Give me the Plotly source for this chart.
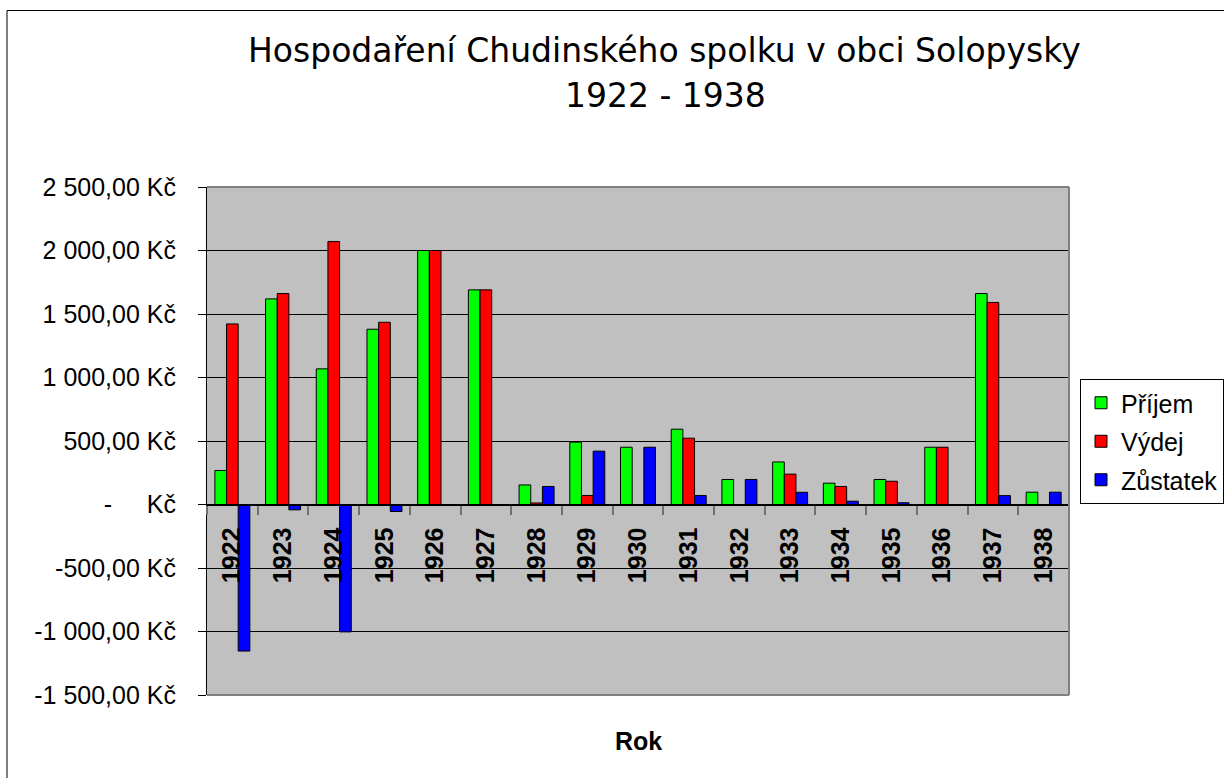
import plotly.graph_objects as go

years = ["1922", "1923", "1924", "1925", "1926", "1927", "1928", "1929", "1930",
         "1931", "1932", "1933", "1934", "1935", "1936", "1937", "1938"]
prijem = [268, 1619, 1068, 1380, 2000, 1690, 154, 491, 451, 593, 197, 335, 168, 197, 451, 1661, 97]
vydej = [1422, 1661, 2071, 1435, 2000, 1690, 12, 71, 0, 522, 0, 239, 142, 183, 451, 1591, 0]
zustatek = [-1154, -42, -1003, -55, 0, 0, 142, 420, 451, 71, 197, 96, 26, 14, 0, 70, 97]

y_tickvals = [2500, 2000, 1500, 1000, 500, 0, -500, -1000, -1500]
y_ticktext = ["2 500,00 Kč", "2 000,00 Kč", "1 500,00 Kč", "1 000,00 Kč", "500,00 Kč",
              "-\u00a0\u00a0\u00a0\u00a0\u00a0Kč", "-500,00 Kč", "-1 000,00 Kč", "-1 500,00 Kč"]

title_line1 = "Hospodaření Chudinského spolku v obci Solopysky"
title_line2 = "1922 - 1938"

FONT = "Liberation Sans, Arial, sans-serif"
TFONT = "DejaVu Sans, sans-serif"

fig = go.Figure()
series = [("Příjem", prijem, "#00FF00"), ("Výdej", vydej, "#FF0000"), ("Zůstatek", zustatek, "#0000FF")]
for name, vals, col in series:
    fig.add_trace(go.Bar(x=years, y=vals, name=name, legendgroup=name,
                         marker=dict(color=col, line=dict(color="black", width=1))))

W, H = 1224, 778
L, R, T, B = 207, 155, 187, 83
pw = W - L - R
ph = H - T - B

def px2x(px):
    return (px - L) / pw

def py2y(py):
    return (H - B - py) / ph

fig.update_layout(
    width=W, height=H,
    margin=dict(l=L, r=R, t=T, b=B, autoexpand=False),
    paper_bgcolor="white",
    plot_bgcolor="#C0C0C0",
    barmode="group",
    bargap=0.31,
    bargroupgap=0,
    font=dict(family=FONT, size=25, color="black"),
    legend=dict(
        x=px2x(1080), y=py2y(379), xanchor="left", yanchor="top",
        bgcolor="white", bordercolor="black", borderwidth=1,
        font=dict(family=FONT, size=25, color="black"),
        tracegroupgap=3,
    ),
    xaxis=dict(
        type="category",
        anchor="free", position=0.375,
        showline=True, linecolor="black", linewidth=1,
        ticks="outside", tickson="boundaries", ticklen=9, tickcolor="#707070", tickwidth=2,
        tickangle=-90,
        tickfont=dict(family=FONT, size=25, color="black", weight="bold"),
        ticklabelstandoff=12,
        showgrid=False,
    ),
    yaxis=dict(
        range=[-1500, 2500],
        tickvals=y_tickvals, ticktext=y_ticktext,
        showgrid=True, gridcolor="black", gridwidth=1,
        zeroline=False,
        showline=True, linecolor="black", linewidth=1,
        ticks="outside", ticklen=8, tickcolor="black",
        tickfont=dict(family=FONT, size=25, color="black"),
        ticklabelstandoff=17,
    ),
    annotations=[
        dict(text=title_line1, x=px2x(664), y=py2y(50), xref="paper", yref="paper",
             xanchor="center", yanchor="middle", showarrow=False,
             font=dict(family=TFONT, size=33, color="black")),
        dict(text=title_line2, x=px2x(665), y=py2y(95), xref="paper", yref="paper",
             xanchor="center", yanchor="middle", showarrow=False,
             font=dict(family=TFONT, size=33, color="black")),
        dict(text="<b>Rok</b>", x=0.5, y=py2y(741), xref="paper", yref="paper",
             xanchor="center", yanchor="middle", showarrow=False,
             font=dict(family=FONT, size=25, color="black")),
    ],
    shapes=[
        dict(type="line", xref="paper", yref="paper", x0=0, x1=1, y0=1, y1=1,
             line=dict(color="#808080", width=2)),
        dict(type="line", xref="paper", yref="paper", x0=1, x1=1, y0=0, y1=1,
             line=dict(color="#808080", width=2)),
        dict(type="line", xref="paper", yref="paper", x0=0, x1=1, y0=0, y1=0,
             line=dict(color="#808080", width=2)),
        dict(type="rect", xref="paper", yref="paper",
             x0=px2x(7), x1=px2x(1240), y0=py2y(790), y1=py2y(10.5),
             line=dict(color="black", width=1), fillcolor="rgba(0,0,0,0)"),
    ],
)

fig.write_html("out.html", config={"displayModeBar": False},
               post_script="document.body.style.margin='0px';document.body.style.overflow='hidden';")
